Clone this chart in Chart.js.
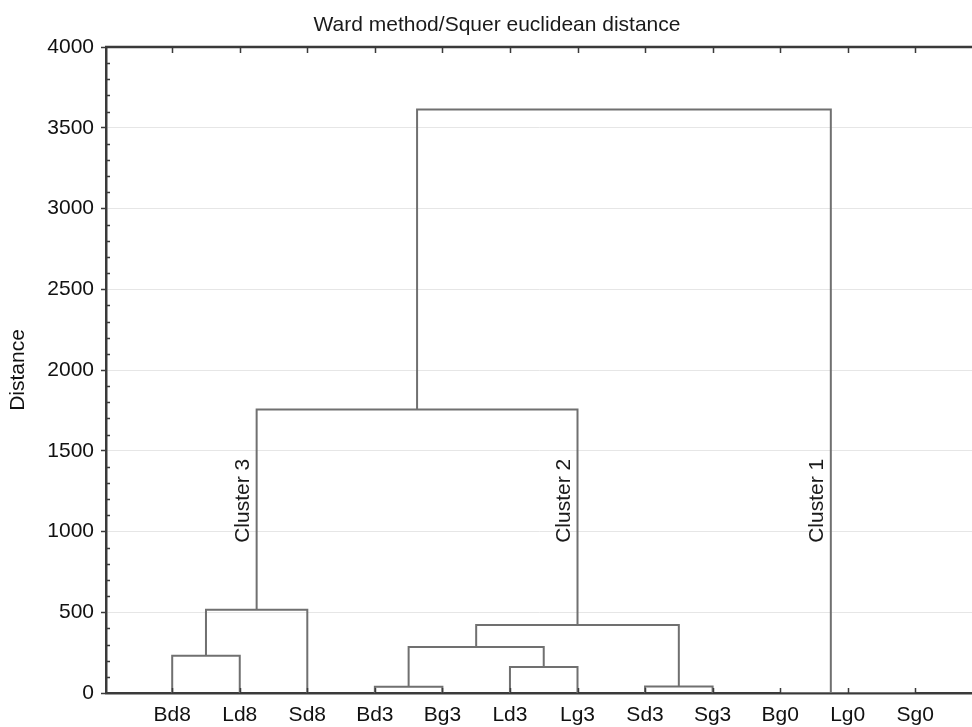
<!DOCTYPE html>
<html>
<head>
<meta charset="utf-8">
<script src="https://cdn.jsdelivr.net/npm/chart.js@4.4.0/dist/chart.umd.min.js"></script>
<style>
    html, body { margin: 0; padding: 0; background: #fff; }
    #wrap { width: 972px; height: 727px; }
</style>
</head>
<body>
<div id="wrap"><canvas id="dendrogram"></canvas></div>
<script>
    // leaves, in the order they sit on the x axis
    var leafLabels = ['Bd8', 'Ld8', 'Sd8', 'Bd3', 'Bg3', 'Ld3', 'Lg3', 'Sd3', 'Sg3', 'Bg0', 'Lg0', 'Sg0'];

    // merge steps: ids 0-11 are leaves, every merge makes a new node 12, 13, ...
    var mergeLeft   = [0,   12,  3,  5,   14,  7,  16,  10, 9,  13,   21];
    var mergeRight  = [1,   2,   4,  6,   15,  8,  17,  11, 19, 18,   20];
    var mergeHeight = [231, 516, 39, 161, 285, 40, 421, 0,  0,  1756, 3613];

    var clusterNames = ['Cluster 3', 'Cluster 2', 'Cluster 1'];
    var clusterNodes = [13, 18, 20];
    var clusterLabelAt = 1190;

    var titleText = 'Ward method/Squer euclidean distance';
    var yAxisTitle = 'Distance';

    var FONT = '"Liberation Sans", Arial, Helvetica, sans-serif';
    var axisColor = '#3a3a3a';

    // node positions: leaves at 1..12, a merged node sits between its children
    var nodeX = leafLabels.map(function(l, i) { return i + 1; });
    var nodeH = leafLabels.map(function() { return 0; });
    var datasets = [];
    for (var k = 0; k < mergeHeight.length; k++) {
        var a = mergeLeft[k], b = mergeRight[k], h = mergeHeight[k];
        datasets.push({
            data: [
                {x: nodeX[a], y: nodeH[a]},
                {x: nodeX[a], y: h},
                {x: nodeX[b], y: h},
                {x: nodeX[b], y: nodeH[b]}
            ],
            showLine: true,
            borderColor: '#707070',
            borderWidth: 2,
            pointRadius: 0,
            borderJoinStyle: 'miter',
            borderCapStyle: 'butt'
        });
        nodeX.push((nodeX[a] + nodeX[b]) / 2);
        nodeH.push(h);
    }

    var framePlugin = {
        id: 'frame',
        afterDatasetsDraw: function(chart) {
            var ctx = chart.ctx, area = chart.chartArea;
            var xs = chart.scales.x, ys = chart.scales.y;
            ctx.save();
            ctx.strokeStyle = axisColor;
            // top border
            ctx.lineWidth = 2.5;
            ctx.beginPath();
            ctx.moveTo(area.left - 1, area.top);
            ctx.lineTo(area.right, area.top);
            ctx.stroke();
            // inward ticks on bottom and top
            ctx.lineWidth = 1.5;
            ctx.beginPath();
            leafLabels.forEach(function(l, i) {
                var px = Math.round(xs.getPixelForValue(i + 1)) + 0.5;
                ctx.moveTo(px, area.bottom);
                ctx.lineTo(px, area.bottom - 5);
                ctx.moveTo(px, area.top);
                ctx.lineTo(px, area.top + 6);
            });
            // minor ticks on the y axis (inward)
            for (var v = 100; v < 4000; v += 100) {
                if (v % 500 === 0) continue;
                var py = Math.round(ys.getPixelForValue(v)) + 0.5;
                ctx.moveTo(area.left, py);
                ctx.lineTo(area.left + 4, py);
            }
            ctx.stroke();

            // cluster labels, rotated, just left of each cluster stem
            ctx.fillStyle = '#1a1a1a';
            ctx.font = '21px ' + FONT;
            ctx.textAlign = 'center';
            ctx.textBaseline = 'alphabetic';
            clusterNames.forEach(function(name, i) {
                var px = xs.getPixelForValue(nodeX[clusterNodes[i]]) - 8;
                var py = ys.getPixelForValue(clusterLabelAt);
                ctx.save();
                ctx.translate(px, py);
                ctx.rotate(-Math.PI / 2);
                ctx.fillText(name, 0, 0);
                ctx.restore();
            });

            // chart title
            ctx.textAlign = 'center';
            ctx.fillText(titleText, 497, 31);
            ctx.restore();
        }
    };

    var tickFont = { family: FONT, size: 21 };

    var ctx = document.getElementById('dendrogram').getContext('2d');
    var chart = new Chart(ctx, {
        type: 'scatter',
        data: { datasets: datasets },
        options: {
            responsive: true,
            maintainAspectRatio: false,
            animation: false,
            layout: { padding: { top: 47, left: 0, right: 0, bottom: 0 } },
            plugins: {
                legend: { display: false },
                tooltip: { enabled: false },
                title: { display: false }
            },
            scales: {
                x: {
                    type: 'linear',
                    min: 0.02,
                    max: 12.84,
                    afterBuildTicks: function(scale) {
                        scale.ticks = leafLabels.map(function(l, i) { return { value: i + 1 }; });
                    },
                    afterFit: function(scale) { scale.height = 34; },
                    ticks: {
                        autoSkip: false,
                        maxRotation: 0,
                        padding: 10,
                        color: '#111',
                        font: tickFont,
                        callback: function(v) { return leafLabels[v - 1]; }
                    },
                    grid: { display: true, drawOnChartArea: false, drawTicks: false },
                    border: { display: true, color: axisColor, width: 2.5 }
                },
                y: {
                    min: 0,
                    max: 4000,
                    afterFit: function(scale) { scale.width = 106; },
                    ticks: {
                        stepSize: 500,
                        padding: 7,
                        color: '#111',
                        font: tickFont,
                        callback: function(v) { return String(v); }
                    },
                    grid: { color: '#e6e6e6', lineWidth: 1, tickColor: axisColor, tickLength: 5, tickWidth: 1.5 },
                    border: { display: true, color: axisColor, width: 2.5 },
                    title: {
                        display: true,
                        text: yAxisTitle,
                        color: '#111',
                        font: tickFont,
                        padding: { top: 6, bottom: 0 }
                    }
                }
            }
        },
        plugins: [framePlugin]
    });
</script>
</body>
</html>
